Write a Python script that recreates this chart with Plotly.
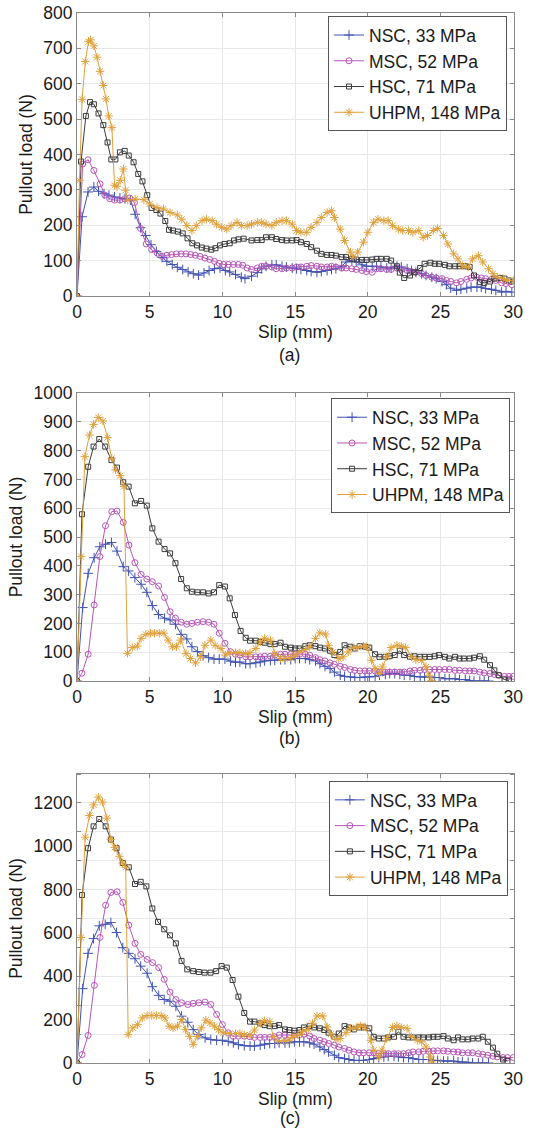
import plotly.graph_objects as go

# ---------------- data (slip mm, pullout load N) ----------------
SERIES_NAMES = ["NSC, 33 MPa", "MSC, 52 MPa", "HSC, 71 MPa", "UHPM, 148 MPa"]
X_TICKS = [0, 5, 10, 15, 20, 25, 30]
Y_TICKS_A = [0, 100, 200, 300, 400, 500, 600, 700, 800]
Y_TICKS_B = [0, 100, 200, 300, 400, 500, 600, 700, 800, 900, 1000]
Y_TICKS_C = [0, 200, 400, 600, 800, 1000, 1200]
PANEL_LABELS = ["(a)", "(b)", "(c)"]

A_NSC = [(0,0),(0.35,224),(0.76,294),(1.16,308),(1.48,296),(1.86,289),(2.2,285),(2.58,280),(2.95,277),(3.3,275),(3.67,271),(4.0,231),(4.37,193),(4.72,171),(5.09,145),(5.46,126),(5.85,109),(6.18,98),(6.55,89),(6.9,81),(7.27,75),(7.64,68),(8.0,63),(8.36,59),(8.73,65),(9.08,72),(9.45,77),(9.83,79),(10.2,72),(10.5,68),(10.9,61),(11.3,53),(11.55,49),(12.0,56),(12.4,66),(12.7,77),(13.0,84),(13.4,88),(13.7,88),(14.1,84),(14.4,82),(14.8,79),(15.1,77),(15.4,75),(15.8,72),(16.1,69),(16.5,67),(16.8,69),(17.2,72),(17.5,75),(17.8,77),(18.2,84),(18.5,96),(18.9,100),(19.2,96),(19.6,88),(19.9,84),(20.3,84),(20.6,84),(20.9,82),(21.3,79),(21.6,79),(22.0,84),(22.3,82),(22.7,77),(23.0,72),(23.3,67),(23.7,63),(24.0,58),(24.4,53),(24.7,49),(25.1,41),(25.4,32),(25.7,22),(26.1,16),(26.4,19),(26.8,22),(27.1,25),(27.5,25),(27.8,25),(28.1,21),(28.5,19),(28.8,16),(29.2,11),(29.5,13),(29.9,11)]
A_MSC = [(0,0),(0.39,373),(0.76,385),(1.16,355),(1.59,317),(1.92,285),(2.25,275),(2.58,271),(2.95,271),(3.28,275),(3.62,277),(3.95,264),(4.37,191),(4.76,147),(5.13,131),(5.52,121),(5.85,112),(6.18,115),(6.5,117),(6.83,119),(7.16,119),(7.49,119),(7.82,117),(8.14,115),(8.47,112),(8.8,107),(9.13,103),(9.45,98),(9.78,92),(10.1,89),(10.4,89),(10.76,89),(11.09,89),(11.4,87),(11.7,79),(12.0,75),(12.4,79),(12.7,84),(13.0,84),(13.4,82),(13.7,77),(14.1,77),(14.4,79),(14.8,79),(15.1,82),(15.4,82),(15.8,84),(16.1,86),(16.5,84),(16.8,82),(17.2,82),(17.5,84),(17.8,82),(18.2,79),(18.5,79),(18.9,77),(19.2,75),(19.6,72),(19.9,69),(20.3,67),(20.6,77),(20.9,77),(21.3,75),(21.6,75),(22.0,79),(22.3,75),(22.7,72),(23.0,69),(23.3,67),(23.7,63),(24.0,58),(24.4,53),(24.7,51),(25.1,49),(25.4,44),(25.7,41),(26.1,37),(26.4,41),(26.8,47),(27.1,51),(27.5,53),(27.8,51),(28.1,49),(28.5,47),(28.8,44),(29.2,37),(29.5,35),(29.9,32)]
A_HSC = [(0,0),(0.28,380),(0.61,509),(0.9,548),(1.16,542),(1.48,516),(1.81,483),(2.1,434),(2.36,386),(2.64,386),(2.95,406),(3.28,410),(3.56,397),(3.89,378),(4.21,345),(4.5,324),(4.83,285),(5.13,249),(5.46,243),(5.74,233),(6.07,212),(6.33,187),(6.6,185),(6.94,182),(7.27,177),(7.6,163),(7.93,149),(8.25,143),(8.58,137),(8.9,134),(9.24,131),(9.52,135),(9.83,143),(10.15,147),(10.5,149),(10.8,157),(11.1,160),(11.46,162),(12.0,157),(12.4,158),(12.7,158),(13.0,166),(13.4,166),(13.7,161),(14.1,158),(14.4,157),(14.8,157),(15.1,158),(15.4,152),(15.8,147),(16.1,138),(16.5,128),(16.8,119),(17.2,116),(17.5,116),(17.8,114),(18.2,110),(18.5,110),(18.9,105),(19.2,103),(19.6,102),(19.9,102),(20.3,103),(20.6,105),(20.9,105),(21.3,105),(21.6,100),(22.0,84),(22.2,66),(22.5,51),(22.9,58),(23.2,67),(23.6,79),(23.9,91),(24.3,94),(24.6,91),(24.9,91),(25.3,88),(25.6,84),(26.0,84),(26.3,84),(26.7,84),(27.0,82),(27.3,58),(27.7,39),(28.0,37),(28.4,41),(28.7,49),(29.1,51),(29.4,49),(29.7,44),(30.0,41)]
A_UHPM = [(0,0),(0.17,327),(0.35,556),(0.57,663),(0.79,719),(0.94,724),(1.16,707),(1.38,675),(1.59,635),(1.81,595),(1.99,557),(2.18,509),(2.4,476),(2.58,313),(2.75,310),(2.97,327),(3.19,359),(3.34,299),(3.49,271),(4.0,274),(4.6,272),(5.0,260),(5.5,250),(5.95,246),(6.4,236),(6.9,229),(7.2,217),(7.55,199),(7.9,185),(8.2,199),(8.6,213),(8.9,217),(9.3,213),(9.6,203),(9.95,194),(10.3,189),(10.6,199),(11.0,208),(11.3,199),(11.7,199),(12.0,203),(12.4,208),(12.7,208),(13.0,203),(13.4,199),(13.7,208),(14.1,213),(14.4,213),(14.8,203),(15.1,185),(15.4,180),(15.8,180),(16.1,194),(16.5,208),(16.8,222),(17.2,236),(17.5,241),(17.7,222),(18.1,189),(18.4,157),(18.8,124),(19.0,110),(19.3,124),(19.7,152),(20.0,180),(20.4,208),(20.7,217),(21.1,213),(21.4,213),(21.7,199),(22.1,189),(22.4,185),(22.8,185),(23.1,180),(23.5,185),(23.8,166),(24.1,171),(24.5,185),(24.8,191),(25.2,171),(25.5,147),(25.9,119),(26.2,105),(26.5,86),(26.9,82),(27.2,105),(27.6,114),(27.9,96),(28.3,77),(28.6,63),(28.9,53),(29.3,49),(29.6,44),(30.0,44)]

B_NSC = [(0,0),(0.39,255),(0.77,374),(1.18,428),(1.57,466),(1.96,475),(2.37,481),(2.75,451),(3.18,397),(3.55,382),(3.98,359),(4.41,336),(4.8,308),(5.18,262),(5.61,231),(6.02,218),(6.4,212),(6.77,197),(7.16,162),(7.55,146),(7.9,119),(8.28,102),(8.67,88),(9.05,81),(9.42,76),(9.78,76),(10.17,76),(10.56,69),(10.9,65),(11.2,66),(11.6,60),(11.9,60),(12.3,63),(12.6,66),(12.9,70),(13.3,72),(13.6,72),(14.0,74),(14.3,74),(14.7,74),(15.0,78),(15.3,78),(15.7,78),(16.0,74),(16.4,70),(16.7,60),(17.05,51),(17.4,43),(17.7,31),(18.1,20),(18.4,16),(18.8,14),(19.1,12),(19.45,12),(19.8,14),(20.1,14),(20.5,16),(20.8,20),(21.2,23),(21.5,26),(21.85,26),(22.2,23),(22.5,20),(22.9,20),(23.2,16),(23.6,14),(23.9,14),(24.25,14),(24.6,12),(24.9,12),(25.3,8),(25.6,8),(26.0,8),(26.3,5),(26.7,5),(27.0,2),(27.3,0),(27.7,0),(28.0,0),(28.3,0)]
B_MSC = [(0,0),(0.34,27),(0.77,93),(1.18,264),(1.57,432),(1.96,539),(2.39,588),(2.75,590),(3.18,551),(3.57,472),(3.98,411),(4.41,370),(4.8,354),(5.18,345),(5.61,330),(6.02,290),(6.4,241),(6.77,218),(7.16,204),(7.55,197),(7.9,200),(8.28,204),(8.67,206),(9.05,204),(9.42,197),(9.78,166),(10.17,131),(10.56,102),(10.9,93),(11.2,90),(11.6,84),(11.9,84),(12.3,84),(12.6,84),(12.9,86),(13.3,86),(13.6,90),(14.0,93),(14.3,93),(14.7,93),(15.0,93),(15.3,93),(15.7,93),(16.0,90),(16.4,81),(16.7,74),(17.05,70),(17.4,63),(17.7,58),(18.1,51),(18.4,47),(18.8,40),(19.1,37),(19.45,35),(19.8,35),(20.1,35),(20.5,35),(20.8,31),(21.2,31),(21.5,31),(21.85,31),(22.2,31),(22.5,31),(22.9,35),(23.2,37),(23.6,37),(23.9,40),(24.25,40),(24.6,40),(24.9,40),(25.3,40),(25.6,40),(26.0,37),(26.3,37),(26.7,35),(27.0,35),(27.3,35),(27.7,31),(28.0,28),(28.4,26),(28.7,23),(29.0,20),(29.4,16),(29.7,16),(30.0,16)]
B_HSC = [(0,0),(0.34,579),(0.77,744),(1.14,814),(1.53,840),(1.94,814),(2.37,767),(2.75,741),(3.18,690),(3.55,675),(3.98,617),(4.41,625),(4.8,609),(5.18,530),(5.61,484),(6.02,458),(6.4,443),(6.77,409),(7.16,354),(7.55,322),(7.9,310),(8.28,308),(8.67,308),(9.05,304),(9.42,308),(9.78,333),(10.17,328),(10.5,287),(10.86,229),(11.25,174),(11.6,150),(11.9,140),(12.3,140),(12.6,136),(12.9,133),(13.3,128),(13.6,128),(14.0,133),(14.3,119),(14.7,116),(15.0,113),(15.3,113),(15.7,121),(16.0,124),(16.4,121),(16.7,116),(17.05,113),(17.4,105),(17.7,90),(18.1,101),(18.4,124),(18.8,119),(19.1,113),(19.45,121),(19.8,119),(20.1,116),(20.5,93),(20.8,84),(21.2,84),(21.5,86),(21.85,90),(22.2,105),(22.5,90),(22.9,84),(23.2,86),(23.6,84),(23.9,84),(24.25,84),(24.6,86),(24.9,90),(25.3,84),(25.6,78),(26.0,84),(26.3,78),(26.6,78),(27.0,78),(27.3,81),(27.7,86),(28.0,74),(28.4,55),(28.7,37),(29.0,20),(29.4,5),(29.7,2)]
B_UHPM = [(0,0),(0.28,432),(0.54,779),(0.86,854),(1.14,891),(1.46,915),(1.78,903),(2.1,845),(2.39,773),(2.65,733),(2.97,713),(3.23,675),(3.47,96),(3.8,116),(4.15,121),(4.4,148),(4.73,162),(5.05,166),(5.33,166),(5.66,166),(5.98,166),(6.26,142),(6.56,119),(6.84,119),(7.12,142),(7.5,95),(7.8,78),(8.15,63),(8.5,84),(8.8,124),(9.2,142),(9.5,124),(9.9,113),(10.2,90),(10.5,98),(10.9,98),(11.2,98),(11.6,95),(11.9,98),(12.3,113),(12.6,136),(12.9,148),(13.3,142),(13.6,95),(14.0,78),(14.3,78),(14.7,81),(15.0,90),(15.3,101),(15.7,109),(16.0,119),(16.4,148),(16.7,167),(17.1,163),(17.3,124),(17.6,101),(18.0,78),(18.3,84),(18.65,101),(19.0,116),(19.3,116),(19.7,121),(19.9,119),(20.25,72),(20.5,43),(20.8,26),(21.0,49),(21.3,84),(21.6,116),(22.0,124),(22.3,121),(22.6,116),(23.0,84),(23.3,74),(23.7,72),(24.0,49),(24.2,20),(24.4,2)]

C_NSC = [(0,0),(0.39,343),(0.76,506),(1.14,574),(1.53,633),(1.94,640),(2.33,648),(2.72,602),(3.15,532),(3.56,506),(3.99,481),(4.38,447),(4.82,414),(5.18,352),(5.62,312),(6.0,293),(6.39,285),(6.8,262),(7.19,216),(7.62,188),(7.99,154),(8.38,131),(8.81,116),(9.2,108),(9.6,105),(10.0,105),(10.4,100),(10.75,93),(11.1,85),(11.5,80),(11.9,78),(12.2,78),(12.6,82),(12.9,87),(13.25,90),(13.6,90),(13.9,93),(14.3,93),(14.6,93),(14.95,98),(15.3,98),(15.6,98),(16.0,93),(16.3,87),(16.7,74),(17.0,62),(17.3,51),(17.7,36),(18.0,25),(18.4,20),(18.7,16),(19.05,12),(19.4,12),(19.7,12),(20.1,16),(20.4,20),(20.75,25),(21.1,28),(21.4,31),(21.8,31),(22.1,28),(22.45,25),(22.8,25),(23.1,20),(23.5,16),(23.8,16),(24.2,16),(24.5,12),(24.8,12),(25.2,9),(25.5,9),(25.9,9),(26.2,5),(26.5,5),(26.9,3),(27.2,0),(27.6,0),(27.9,0),(28.3,0)]
C_MSC = [(0,0),(0.35,39),(0.76,127),(1.19,358),(1.58,579),(1.97,728),(2.33,787),(2.76,790),(3.15,741),(3.56,636),(3.99,552),(4.38,501),(4.82,478),(5.2,463),(5.62,440),(6.0,386),(6.39,327),(6.8,293),(7.19,278),(7.62,270),(7.99,275),(8.38,278),(8.81,281),(9.2,270),(9.6,224),(10.0,177),(10.4,139),(10.75,123),(11.1,124),(11.5,124),(11.9,121),(12.2,118),(12.6,118),(12.9,118),(13.25,118),(13.6,121),(13.9,129),(14.3,129),(14.6,129),(14.95,129),(15.3,129),(15.6,133),(16.0,124),(16.3,113),(16.7,105),(17.0,98),(17.3,90),(17.7,82),(18.0,74),(18.4,67),(18.7,59),(19.05,51),(19.4,47),(19.7,47),(20.1,47),(20.4,47),(20.75,43),(21.1,43),(21.4,43),(21.8,43),(22.1,43),(22.45,43),(22.8,47),(23.1,51),(23.5,51),(23.8,54),(24.2,54),(24.5,56),(24.8,56),(25.2,56),(25.5,54),(25.9,51),(26.2,51),(26.5,47),(26.9,47),(27.2,47),(27.6,43),(27.9,40),(28.25,36),(28.6,31),(28.9,28),(29.3,25),(29.6,25),(30.0,25)]
C_HSC = [(0,0),(0.35,775),(0.76,991),(1.14,1092),(1.53,1126),(1.97,1092),(2.33,1031),(2.72,991),(3.15,923),(3.56,903),(3.99,826),(4.38,836),(4.77,815),(5.18,713),(5.57,651),(6.0,617),(6.39,589),(6.8,552),(7.19,471),(7.58,432),(7.99,424),(8.38,420),(8.77,417),(9.18,417),(9.57,424),(9.94,447),(10.3,440),(10.7,383),(11.1,306),(11.5,231),(11.9,191),(12.2,191),(12.6,183),(12.9,175),(13.25,170),(13.6,170),(13.9,175),(14.3,155),(14.6,152),(14.95,149),(15.3,152),(15.6,164),(16.0,170),(16.3,164),(16.7,160),(17.0,152),(17.3,140),(17.7,121),(18.0,136),(18.4,170),(18.7,164),(19.05,155),(19.4,164),(19.7,164),(20.1,160),(20.4,121),(20.75,113),(21.1,113),(21.4,118),(21.8,121),(22.1,144),(22.45,121),(22.8,118),(23.1,118),(23.5,118),(23.8,118),(24.2,118),(24.5,121),(24.8,121),(25.2,124),(25.5,113),(25.9,105),(26.2,118),(26.5,109),(26.9,109),(27.2,113),(27.6,113),(27.9,121),(28.25,98),(28.6,71),(28.9,43),(29.3,16),(29.6,9)]
C_UHPM = [(0,0),(0.28,579),(0.56,1042),(0.86,1142),(1.14,1191),(1.47,1227),(1.75,1204),(2.05,1130),(2.33,1031),(2.59,995),(2.92,954),(3.13,923),(3.35,903),(3.52,131),(3.84,162),(4.17,177),(4.49,208),(4.82,219),(5.14,219),(5.46,219),(5.79,219),(6.05,208),(6.33,170),(6.6,162),(6.91,170),(7.19,201),(7.47,154),(7.73,123),(7.99,85),(8.27,123),(8.55,162),(8.86,198),(9.14,185),(9.46,170),(9.74,154),(10.06,139),(10.5,136),(10.9,136),(11.2,136),(11.5,129),(11.9,129),(12.2,152),(12.6,183),(12.9,195),(13.25,191),(13.5,121),(13.8,102),(14.2,102),(14.5,105),(14.8,118),(15.2,129),(15.5,144),(15.9,155),(16.2,183),(16.5,217),(16.9,217),(17.2,167),(17.45,133),(17.8,109),(18.1,113),(18.5,140),(18.8,160),(19.2,164),(19.5,171),(19.8,167),(20.2,105),(20.4,59),(20.75,28),(20.98,59),(21.3,113),(21.7,164),(22.0,171),(22.3,164),(22.7,160),(23.0,121),(23.4,105),(23.7,98),(24.0,74),(24.3,28),(24.4,5)]

# ---------------- styling ----------------
COLORS = ["#4152b3", "#b955b9", "#3c3c3c", "#e0a03a"]
SYMBOLS = ["cross-thin-open", "circle-open", "square-open", "asterisk-open"]
MSIZE = [7, 6, 5, 7]
FONT = "Liberation Sans, Arial, sans-serif"
FS = 17.5

panels = [
    dict(series=[A_NSC, A_MSC, A_HSC, A_UHPM], dom=[0.7305, 1.0], yr=[0, 800], yt=Y_TICKS_A, grid=None,
         leg=(0.984, 0.997), lab_y=0.674),
    dict(series=[B_NSC, B_MSC, B_HSC, B_UHPM], dom=[0.3638, 0.6381], yr=[0, 1000], yt=Y_TICKS_B, grid=None,
         leg=(0.991, 0.633), lab_y=0.3095),
    dict(series=[C_NSC, C_MSC, C_HSC, C_UHPM], dom=[0.0, 0.2752], yr=[0, 1333.33], yt=Y_TICKS_C,
         grid=[i * 1200 / 9 for i in range(11)], leg=(0.986, 0.2686), lab_y=-0.052),
]

fig = go.Figure()
layout = dict(
    width=550, height=1134,
    margin=dict(l=77, r=36, t=13, b=71, autoexpand=False),
    paper_bgcolor="white", plot_bgcolor="white",
    font=dict(family=FONT, size=FS, color="#1a1a1a"),
    showlegend=True,
    annotations=[],
)

for p_i, p in enumerate(panels):
    k = "" if p_i == 0 else str(p_i + 1)
    leg_name = "legend" + k
    for s_i, data in enumerate(p["series"]):
        fig.add_trace(go.Scatter(
            x=[d[0] for d in data], y=[d[1] for d in data],
            mode="lines+markers", name=SERIES_NAMES[s_i],
            line=dict(color=COLORS[s_i], width=1),
            marker=dict(symbol=SYMBOLS[s_i], size=MSIZE[s_i], color=COLORS[s_i],
                        line=dict(color=COLORS[s_i], width=1)),
            xaxis="x" + k, yaxis="y" + k, legend=leg_name,
        ))
    axis_common = dict(showline=True, linecolor="#8a8a8a", linewidth=1, mirror="ticks",
                       zeroline=False, automargin=False,
                       tickfont=dict(size=FS, color="#1a1a1a"))
    layout["xaxis" + k] = dict(
        domain=[0, 1], anchor="y" + k, range=[0, 30.05], tickvals=X_TICKS,
        ticks="inside", ticklen=4, tickcolor="#8a8a8a", showgrid=True, gridcolor="#e8e8e8",
        title=dict(text="Slip (mm)", font=dict(size=FS), standoff=2), **axis_common)
    ydict = dict(domain=p["dom"], anchor="x" + k, range=p["yr"], tickvals=p["yt"],
                 title=dict(text="Pullout load (N)", font=dict(size=FS), standoff=6), **axis_common)
    if p["grid"] is None:
        ydict.update(ticks="inside", ticklen=4, tickcolor="#8a8a8a", showgrid=True, gridcolor="#e8e8e8")
    else:
        ydict.update(ticks="", showgrid=False,
                     minor=dict(tickvals=p["grid"], showgrid=True, gridcolor="#e8e8e8",
                                ticks="inside", ticklen=4, tickcolor="#8a8a8a"))
    layout["yaxis" + k] = ydict
    layout[leg_name] = dict(x=p["leg"][0], y=p["leg"][1], xanchor="right", yanchor="top",
                            bgcolor="white", bordercolor="#555555", borderwidth=1,
                            font=dict(size=FS, color="#1a1a1a"), itemwidth=30,
                            tracegroupgap=0)
    layout["annotations"].append(dict(text=PANEL_LABELS[p_i], xref="paper", yref="paper",
                                      x=0.487, y=p["lab_y"], showarrow=False,
                                      font=dict(size=FS), xanchor="center", yanchor="middle"))

fig.update_layout(**layout)
fig.write_html("out.html", config={"displayModeBar": False},
               post_script="document.body.style.margin='0';document.body.style.padding='0';")
